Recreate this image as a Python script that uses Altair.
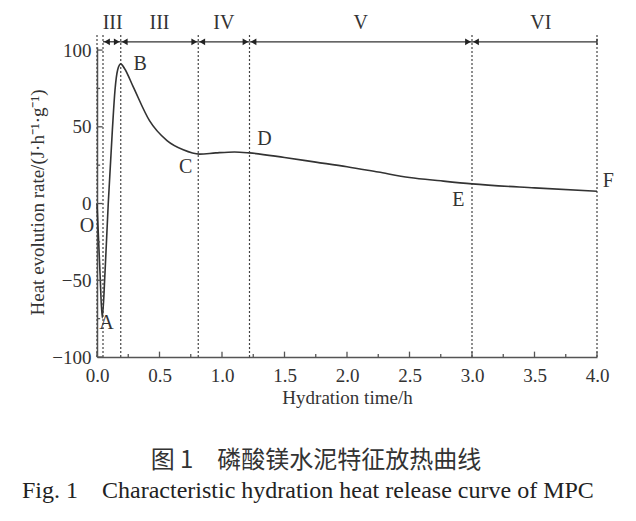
import altair as alt
import pandas as pd

# curve data (hours, J/(h*g))
time_h = [0.0, 0.024, 0.042, 0.064, 0.09, 0.123, 0.144, 0.165, 0.19, 0.22, 0.29, 0.42,
          0.56, 0.69, 0.82, 0.95, 1.1, 1.22, 1.5, 1.75, 2.0, 2.25, 2.5, 2.75, 3.0, 3.5, 4.0]
rate = [0.0, -45, -74.5, -45, 0, 48, 74, 87, 91, 88, 76, 54,
        41, 35, 32.2, 33, 33.6, 33, 30, 27, 24, 20.5, 17, 14.8, 12.8, 10.2, 8]

# stage boundaries
bounds = [0.0, 0.048, 0.19, 0.81, 1.22, 3.0, 4.0]
stage_names = ["III", "III", "IV", "V", "VI"]
stage_pos = [0.125, 0.5, 1.015, 2.11, 3.55]

# key points
pt_names = ["O", "A", "B", "C", "D", "E", "F"]
pt_x = [-0.08, 0.075, 0.345, 0.71, 1.34, 2.89, 4.09]
pt_y = [-14.5, -78, 91, 24, 42, 2, 15]

x_major = [0.0, 0.5, 1.0, 1.5, 2.0, 2.5, 3.0, 3.5, 4.0]
x_minor = [0.25, 0.75, 1.25, 1.75, 2.25, 2.75, 3.25, 3.75]
y_major = [-100, -50, 0, 50, 100]
y_minor = [-75, -25, 25, 75]

FONT = "Liberation Serif"
INK = "#333333"

xs = alt.Scale(domain=[0, 4], nice=False)
ys = alt.Scale(domain=[-100, 102], nice=False)

curve_df = pd.DataFrame({"t": time_h, "r": rate})
base = alt.Chart(curve_df)

curve = base.mark_line(color=INK, strokeWidth=1.6, interpolate="monotone").encode(
    x=alt.X("t:Q", scale=xs, axis=alt.Axis(values=x_major, format=".1f", tickSize=0,
                                            labelPadding=9, labelFlush=False,
                                            title="Hydration time/h",
                                            titlePadding=3, domainColor="#555", domainWidth=1.5,
                                            grid=False)),
    y=alt.Y("r:Q", scale=ys, axis=alt.Axis(values=y_major, tickSize=0, labelPadding=6,
                                            labelFlush=False,
                                            title="Heat evolution rate/(J·h⁻¹·g⁻¹)",
                                            titlePadding=4, domainColor="#555", domainWidth=1.5,
                                            grid=False)),
)

vlines = alt.Chart(pd.DataFrame({"b": bounds})).mark_rule(
    color="#444", strokeDash=[2, 2], strokeWidth=1.2).encode(
    x=alt.X("b:Q", scale=xs), y=alt.datum(-100), y2=alt.datum(110))

# arrows
seg_df = pd.DataFrame({"a": bounds[1:-1], "b": bounds[2:]})
segs = alt.Chart(seg_df).mark_rule(color=INK, strokeWidth=1.3).encode(
    x=alt.X("a:Q", scale=xs), x2="b:Q", y=alt.datum(105.4))

left_heads = alt.Chart(pd.DataFrame({"a": bounds[1:-1]})).mark_point(
    shape="triangle-left", filled=True, color="#222", size=45, opacity=1, xOffset=4).encode(
    x=alt.X("a:Q", scale=xs), y=alt.datum(105.4))
right_heads = alt.Chart(pd.DataFrame({"b": bounds[2:-1]})).mark_point(
    shape="triangle-right", filled=True, color="#222", size=45, opacity=1, xOffset=-4).encode(
    x=alt.X("b:Q", scale=xs), y=alt.datum(105.4))
end_bar = alt.Chart(pd.DataFrame({"b": [bounds[-1]]})).mark_rule(color=INK, strokeWidth=1.3).encode(
    x=alt.X("b:Q", scale=xs), y=alt.datum(103.5), y2=alt.datum(107.3))

stage_txt = alt.Chart(pd.DataFrame({"n": stage_names, "p": stage_pos})).mark_text(
    font=FONT, fontSize=20, color=INK).encode(
    x=alt.X("p:Q", scale=xs), y=alt.datum(117.5), text="n:N")

pt_txt = alt.Chart(pd.DataFrame({"n": pt_names, "x": pt_x, "y": pt_y})).mark_text(
    font=FONT, fontSize=20, color=INK).encode(
    x=alt.X("x:Q", scale=xs), y=alt.Y("y:Q", scale=ys), text="n:N")

# inward ticks
xt_major = alt.Chart(pd.DataFrame({"v": x_major})).mark_rule(color="#555", strokeWidth=1.3).encode(
    x=alt.X("v:Q", scale=xs), y=alt.datum(-100), y2=alt.datum(-96.5))
xt_minor = alt.Chart(pd.DataFrame({"v": x_minor})).mark_rule(color="#555", strokeWidth=1.3).encode(
    x=alt.X("v:Q", scale=xs), y=alt.datum(-100), y2=alt.datum(-98))
yt_major = alt.Chart(pd.DataFrame({"v": y_major})).mark_rule(color="#555", strokeWidth=1.3).encode(
    y=alt.Y("v:Q", scale=ys), x=alt.datum(0), x2=alt.datum(0.045))
yt_minor = alt.Chart(pd.DataFrame({"v": y_minor})).mark_rule(color="#555", strokeWidth=1.3).encode(
    y=alt.Y("v:Q", scale=ys), x=alt.datum(0), x2=alt.datum(0.025))

cap_cn = alt.Chart(pd.DataFrame({"s": ["图 1\u3000磷酸镁水泥特征放热曲线"]})).mark_text(
    font="Noto Sans CJK SC", fontSize=24, color=INK, align="center", baseline="middle").encode(
    x=alt.value(219), y=alt.value(414), text="s:N")
cap_en = alt.Chart(pd.DataFrame({"s": ["Fig. 1\u2003Characteristic hydration heat release curve of MPC"]})).mark_text(
    font=FONT, fontSize=24, color="#222", align="left", baseline="middle").encode(
    x=alt.value(-75), y=alt.value(444), text="s:N")

chart = alt.layer(vlines, curve, segs, left_heads, right_heads, end_bar, stage_txt, pt_txt,
                  xt_major, xt_minor, yt_major, yt_minor, cap_cn, cap_en).properties(
    width=500, height=310,
    autosize=alt.AutoSizeParams(type="none"),
    padding={"left": 89, "top": 39, "right": 30, "bottom": 150},
    background="white",
).configure_view(stroke=None).configure_axis(
    labelFont=FONT, labelFontSize=19, labelColor=INK,
    titleFont=FONT, titleFontSize=19, titleColor=INK, titleFontWeight="normal",
)

chart.save("out.html", embed_options={"renderer": "svg", "actions": False})
